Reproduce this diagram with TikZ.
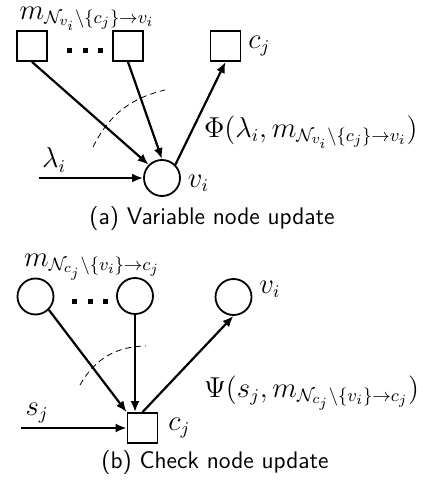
\documentclass[tikz,border=0pt]{standalone}
\usetikzlibrary{arrows.meta,calc}
\begin{document}
\begin{tikzpicture}[x=0.5pt,y=-0.5pt,
  chk/.style={draw,rectangle,line width=0.9pt,minimum size=15pt,inner sep=0pt},
  var/.style={draw,circle,line width=0.9pt,minimum size=18pt,inner sep=0pt},
  msg/.style={line width=1.1pt,-{Latex[length=5.5pt,width=4.5pt]}},
  sweep/.style={line width=0.4pt,dash pattern=on 3pt off 2pt},
  lbl/.style={font=\fontsize{13.5}{15}\selectfont},
  captext/.style={font=\sffamily\fontsize{12}{14}\selectfont}]

\useasboundingbox (0,0) rectangle (422,491);

\node[chk] (s1) at (32,46) {};
\node[chk] (s2) at (128,46) {};
\node[chk] (c) at (225.5,46) {};
\node[var] (v) at (162,178) {};
\coordinate (lam) at (39,178);
\foreach \x in {69.5,85,100.5}
  \fill (\x-2.5,48) rectangle (\x+2.5,53);

\draw[msg] (s1.south) -- (v.north west);
\draw[msg] (s2.south) -- (v.north);
\draw[msg] (v.north east) -- (c.south);
\draw[msg] (lam) -- (v.west);
\draw[sweep] (93,147) to[bend left=25] (165,90);

\node[lbl,inner sep=0pt] (mv) at (87,18.5) {$m_{\mathcal{N}_{v_i}\backslash\{c_j\}\rightarrow v_i}$};
\node[lbl,anchor=west] (cl) at (c.east) {$c_j$};
\node[lbl,anchor=west] (vl) at ($(v.east)+(0,5)$) {$v_i$};
\node[lbl] (laml) at (54,160) {$\lambda_i$};
\node[lbl,anchor=west] (phi) at (197,132) {$\Phi(\lambda_i, m_{\mathcal{N}_{v_i}\backslash\{c_j\}\rightarrow v_i})$};
\node[captext] (capa) at (212,219) {(a) Variable node update};

\node[var] (u1) at (35.5,296.5) {};
\node[var] (u2) at (135,296) {};
\node[var] (vi) at (233.5,297) {};
\node[chk] (cj) at (142.5,428) {};
\coordinate (sj) at (21,428);
\foreach \x in {74.5,90,105.5}
  \fill (\x-2.5,299) rectangle (\x+2.5,304);

\draw[msg] (u1.south east) -- (cj.north west);
\draw[msg] (u2.south) -- (u2.south |- cj.north);
\draw[msg] (cj.north) -- (vi.south);
\draw[msg] (sj) -- (cj.west);
\draw[sweep] (80,385) to[bend left=30] (146,346);

\node[lbl] (mc) at (92,267) {$m_{\mathcal{N}_{c_j}\backslash\{v_i\}\rightarrow c_j}$};
\node[lbl,anchor=west] (cjl) at ($(cj.east)+(3,0)$) {$c_j$};
\node[lbl,anchor=west] (vil) at ($(vi.east)+(0,-8)$) {$v_i$};
\node[lbl] (sjl) at (37,413) {$s_j$};
\node[lbl,anchor=west] (psi) at (197,393) {$\Psi(s_j, m_{\mathcal{N}_{c_j}\backslash\{v_i\}\rightarrow c_j})$};
\node[captext] (capb) at (215,463) {(b) Check node update};

\end{tikzpicture}
\end{document}
